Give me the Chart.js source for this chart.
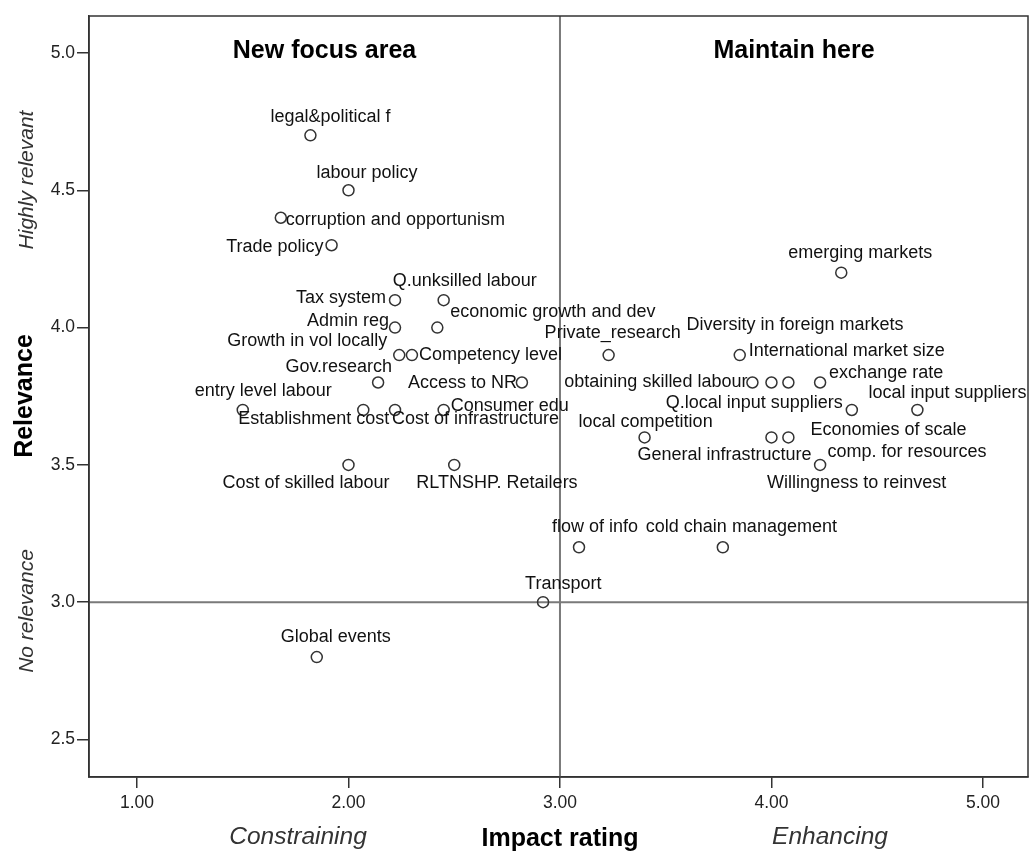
<!DOCTYPE html>
<html>
<head>
<meta charset="utf-8">
<title>Relevance vs impact rating</title>
<script src="https://cdn.jsdelivr.net/npm/chart.js@4/dist/chart.umd.min.js"></script>
<style>
  html, body { margin: 0; padding: 0; background: #fff; }
  canvas { display: block; }
</style>
</head>
<body>
<canvas id="chart" width="1030" height="852"></canvas>
<script>
// factor names, impact rating (x) and relevance (y)
var factors = [
  "legal&political f", "labour policy", "corruption and opportunism", "Trade policy",
  "Tax system", "Q.unksilled labour", "Admin reg", "economic growth and dev",
  "Growth in vol locally", "Competency level", "Gov.research", "Access to NR",
  "entry level labour", "Establishment cost", "Cost of infrastructure", "Consumer edu",
  "Cost of skilled labour", "RLTNSHP. Retailers", "Global events", "Transport",
  "flow of info", "cold chain management", "emerging markets", "Private_research",
  "International market size", "obtaining skilled labour", "Diversity in foreign markets",
  "Economies of scale", "exchange rate", "Q.local input suppliers", "local input suppliers",
  "local competition", "General infrastructure", "comp. for resources", "Willingness to reinvest"
];
var impact = [
  1.82, 2.00, 1.68, 1.92,
  2.22, 2.45, 2.22, 2.42,
  2.24, 2.30, 2.14, 2.82,
  1.50, 2.07, 2.22, 2.45,
  2.00, 2.50, 1.85, 2.92,
  3.09, 3.77, 4.33, 3.23,
  3.85, 3.91, 4.00,
  4.08, 4.23, 4.38, 4.69,
  3.40, 4.00, 4.08, 4.23
];
var relevance = [
  4.7, 4.5, 4.4, 4.3,
  4.1, 4.1, 4.0, 4.0,
  3.9, 3.9, 3.8, 3.8,
  3.7, 3.7, 3.7, 3.7,
  3.5, 3.5, 2.8, 3.0,
  3.2, 3.2, 4.2, 3.9,
  3.9, 3.8, 3.8,
  3.8, 3.8, 3.7, 3.7,
  3.6, 3.6, 3.6, 3.5
];
var xTicks = [1, 2, 3, 4, 5];
var yTicks = [2.5, 3.0, 3.5, 4.0, 4.5, 5.0];
var cutoff = 3.0;
var quadrantTitles = ["New focus area", "Maintain here"];
var xTitle = "Impact rating";
var yTitle = "Relevance";
var xEnds = ["Constraining", "Enhancing"];
var yEnds = ["No relevance", "Highly relevant"];

var xMin = 0.773, xMax = 5.213;
var yMin = 2.3634, yMax = 5.1347;

// label placement next to each marker: [dx, dy(baseline), align]
var labelPlace = [
  [-40, -13, "left"], [-32, -12, "left"], [5, 7, "left"], [-8, 7, "right"],
  [-9, 3, "right"], [-51, -14, "left"], [-6, -2, "right"], [13, -11, "left"],
  [-12, -9, "right"], [7, 5, "left"], [14, -11, "right"], [-5, 5, "right"],
  [-48, -14, "left"], [26, 14, "right"], [-3, 14, "left"], [7, 1, "left"],
  [-126, 23, "left"], [-38, 23, "left"], [-36, -15, "left"], [-18, -13, "left"],
  [-27, -15, "left"], [-77, -15, "left"], [-53, -15, "left"], [-64, -17, "left"],
  [9, 1, "left"], [-5, 4, "right"], [-85, -53, "left"],
  [22, 52, "left"], [9, -5, "left"], [-9, -2, "right"], [-49, -12, "left"],
  [-66, -10, "left"], [40, 23, "right"], [39, 20, "left"], [-53, 23, "left"]
];

var FONT = "'Liberation Sans', Arial, sans-serif";

var points = impact.map(function (x, i) { return { x: x, y: relevance[i] }; });

var decorPlugin = {
  id: "decor",
  beforeDatasetsDraw: function (chart) {
    var ctx = chart.ctx, a = chart.chartArea;
    var cx = chart.scales.x.getPixelForValue(cutoff);
    var cy = chart.scales.y.getPixelForValue(cutoff);
    ctx.save();
    ctx.strokeStyle = "#7a7a7a";
    ctx.lineWidth = 2;
    ctx.beginPath();
    ctx.moveTo(cx, a.top); ctx.lineTo(cx, a.bottom);
    ctx.moveTo(a.left, cy); ctx.lineTo(a.right, cy);
    ctx.stroke();
    ctx.strokeStyle = "#333";
    ctx.lineWidth = 1.5;
    ctx.strokeRect(a.left, a.top, a.right - a.left, a.bottom - a.top);

    // quadrant titles
    ctx.fillStyle = "#000";
    ctx.font = "bold 25px " + FONT;
    ctx.textAlign = "center";
    ctx.textBaseline = "alphabetic";
    ctx.fillText(quadrantTitles[0], (a.left + cx) / 2, a.top + 42);
    ctx.fillText(quadrantTitles[1], (cx + a.right) / 2, a.top + 42);
    ctx.restore();
  },
  afterDatasetsDraw: function (chart) {
    var ctx = chart.ctx;
    var meta = chart.getDatasetMeta(0);
    ctx.save();
    ctx.fillStyle = "#111";
    ctx.font = "18px " + FONT;
    ctx.textBaseline = "alphabetic";
    meta.data.forEach(function (pt, i) {
      var p = labelPlace[i];
      ctx.textAlign = p[2];
      ctx.fillText(factors[i], pt.x + p[0], pt.y + p[1]);
    });
    ctx.restore();
  },
  afterDraw: function (chart) {
    var ctx = chart.ctx;
    ctx.save();
    ctx.fillStyle = "#000";
    ctx.textAlign = "center";
    ctx.textBaseline = "alphabetic";
    ctx.font = "bold 25px " + FONT;
    ctx.fillText(xTitle, 560, 846);
    ctx.save();
    ctx.translate(32, 396);
    ctx.rotate(-Math.PI / 2);
    ctx.fillText(yTitle, 0, 0);
    ctx.restore();

    ctx.fillStyle = "#333";
    ctx.font = "italic 24.5px " + FONT;
    ctx.fillText(xEnds[0], 298, 844);
    ctx.fillText(xEnds[1], 830, 844);
    ctx.font = "italic 21px " + FONT;
    ctx.save();
    ctx.translate(33, 611);
    ctx.rotate(-Math.PI / 2);
    ctx.fillText(yEnds[0], 0, 0);
    ctx.restore();
    ctx.save();
    ctx.translate(33, 180);
    ctx.rotate(-Math.PI / 2);
    ctx.fillText(yEnds[1], 0, 0);
    ctx.restore();
    ctx.restore();
  }
};

new Chart(document.getElementById("chart"), {
  type: "scatter",
  data: {
    datasets: [{
      data: points,
      pointStyle: "circle",
      pointRadius: 5.5,
      pointHoverRadius: 5.5,
      borderWidth: 1.5,
      borderColor: "#333",
      backgroundColor: "rgba(0,0,0,0)"
    }]
  },
  options: {
    responsive: false,
    animation: false,
    devicePixelRatio: 1,
    layout: { autoPadding: false, padding: { top: 16, right: 2, left: 0, bottom: 0 } },
    plugins: {
      legend: { display: false },
      tooltip: { enabled: false }
    },
    scales: {
      x: {
        type: "linear",
        min: xMin,
        max: xMax,
        afterBuildTicks: function (s) { s.ticks = xTicks.map(function (v) { return { value: v }; }); },
        afterFit: function (s) { s.height = 75; s.paddingLeft = 0; s.paddingRight = 0; },
        grid: { drawOnChartArea: false, drawTicks: true, tickLength: 11, color: "#333", lineWidth: 1.5 },
        border: { display: true, color: "#333", width: 1.5 },
        ticks: {
          padding: 5,
          color: "#222",
          maxRotation: 0,
          autoSkip: false,
          font: { family: FONT, size: 17.5 },
          callback: function (v) { return Number(v).toFixed(2); }
        }
      },
      y: {
        type: "linear",
        min: yMin,
        max: yMax,
        afterBuildTicks: function (s) { s.ticks = yTicks.map(function (v) { return { value: v }; }); },
        afterFit: function (s) { s.width = 89; s.paddingTop = 0; s.paddingBottom = 0; },
        grid: { drawOnChartArea: false, drawTicks: true, tickLength: 12, color: "#333", lineWidth: 1.5 },
        border: { display: true, color: "#333", width: 1.5 },
        ticks: {
          padding: 2,
          color: "#222",
          autoSkip: false,
          font: { family: FONT, size: 17.5 },
          callback: function (v) { return Number(v).toFixed(1); }
        }
      }
    }
  },
  plugins: [decorPlugin]
});
</script>
</body>
</html>
